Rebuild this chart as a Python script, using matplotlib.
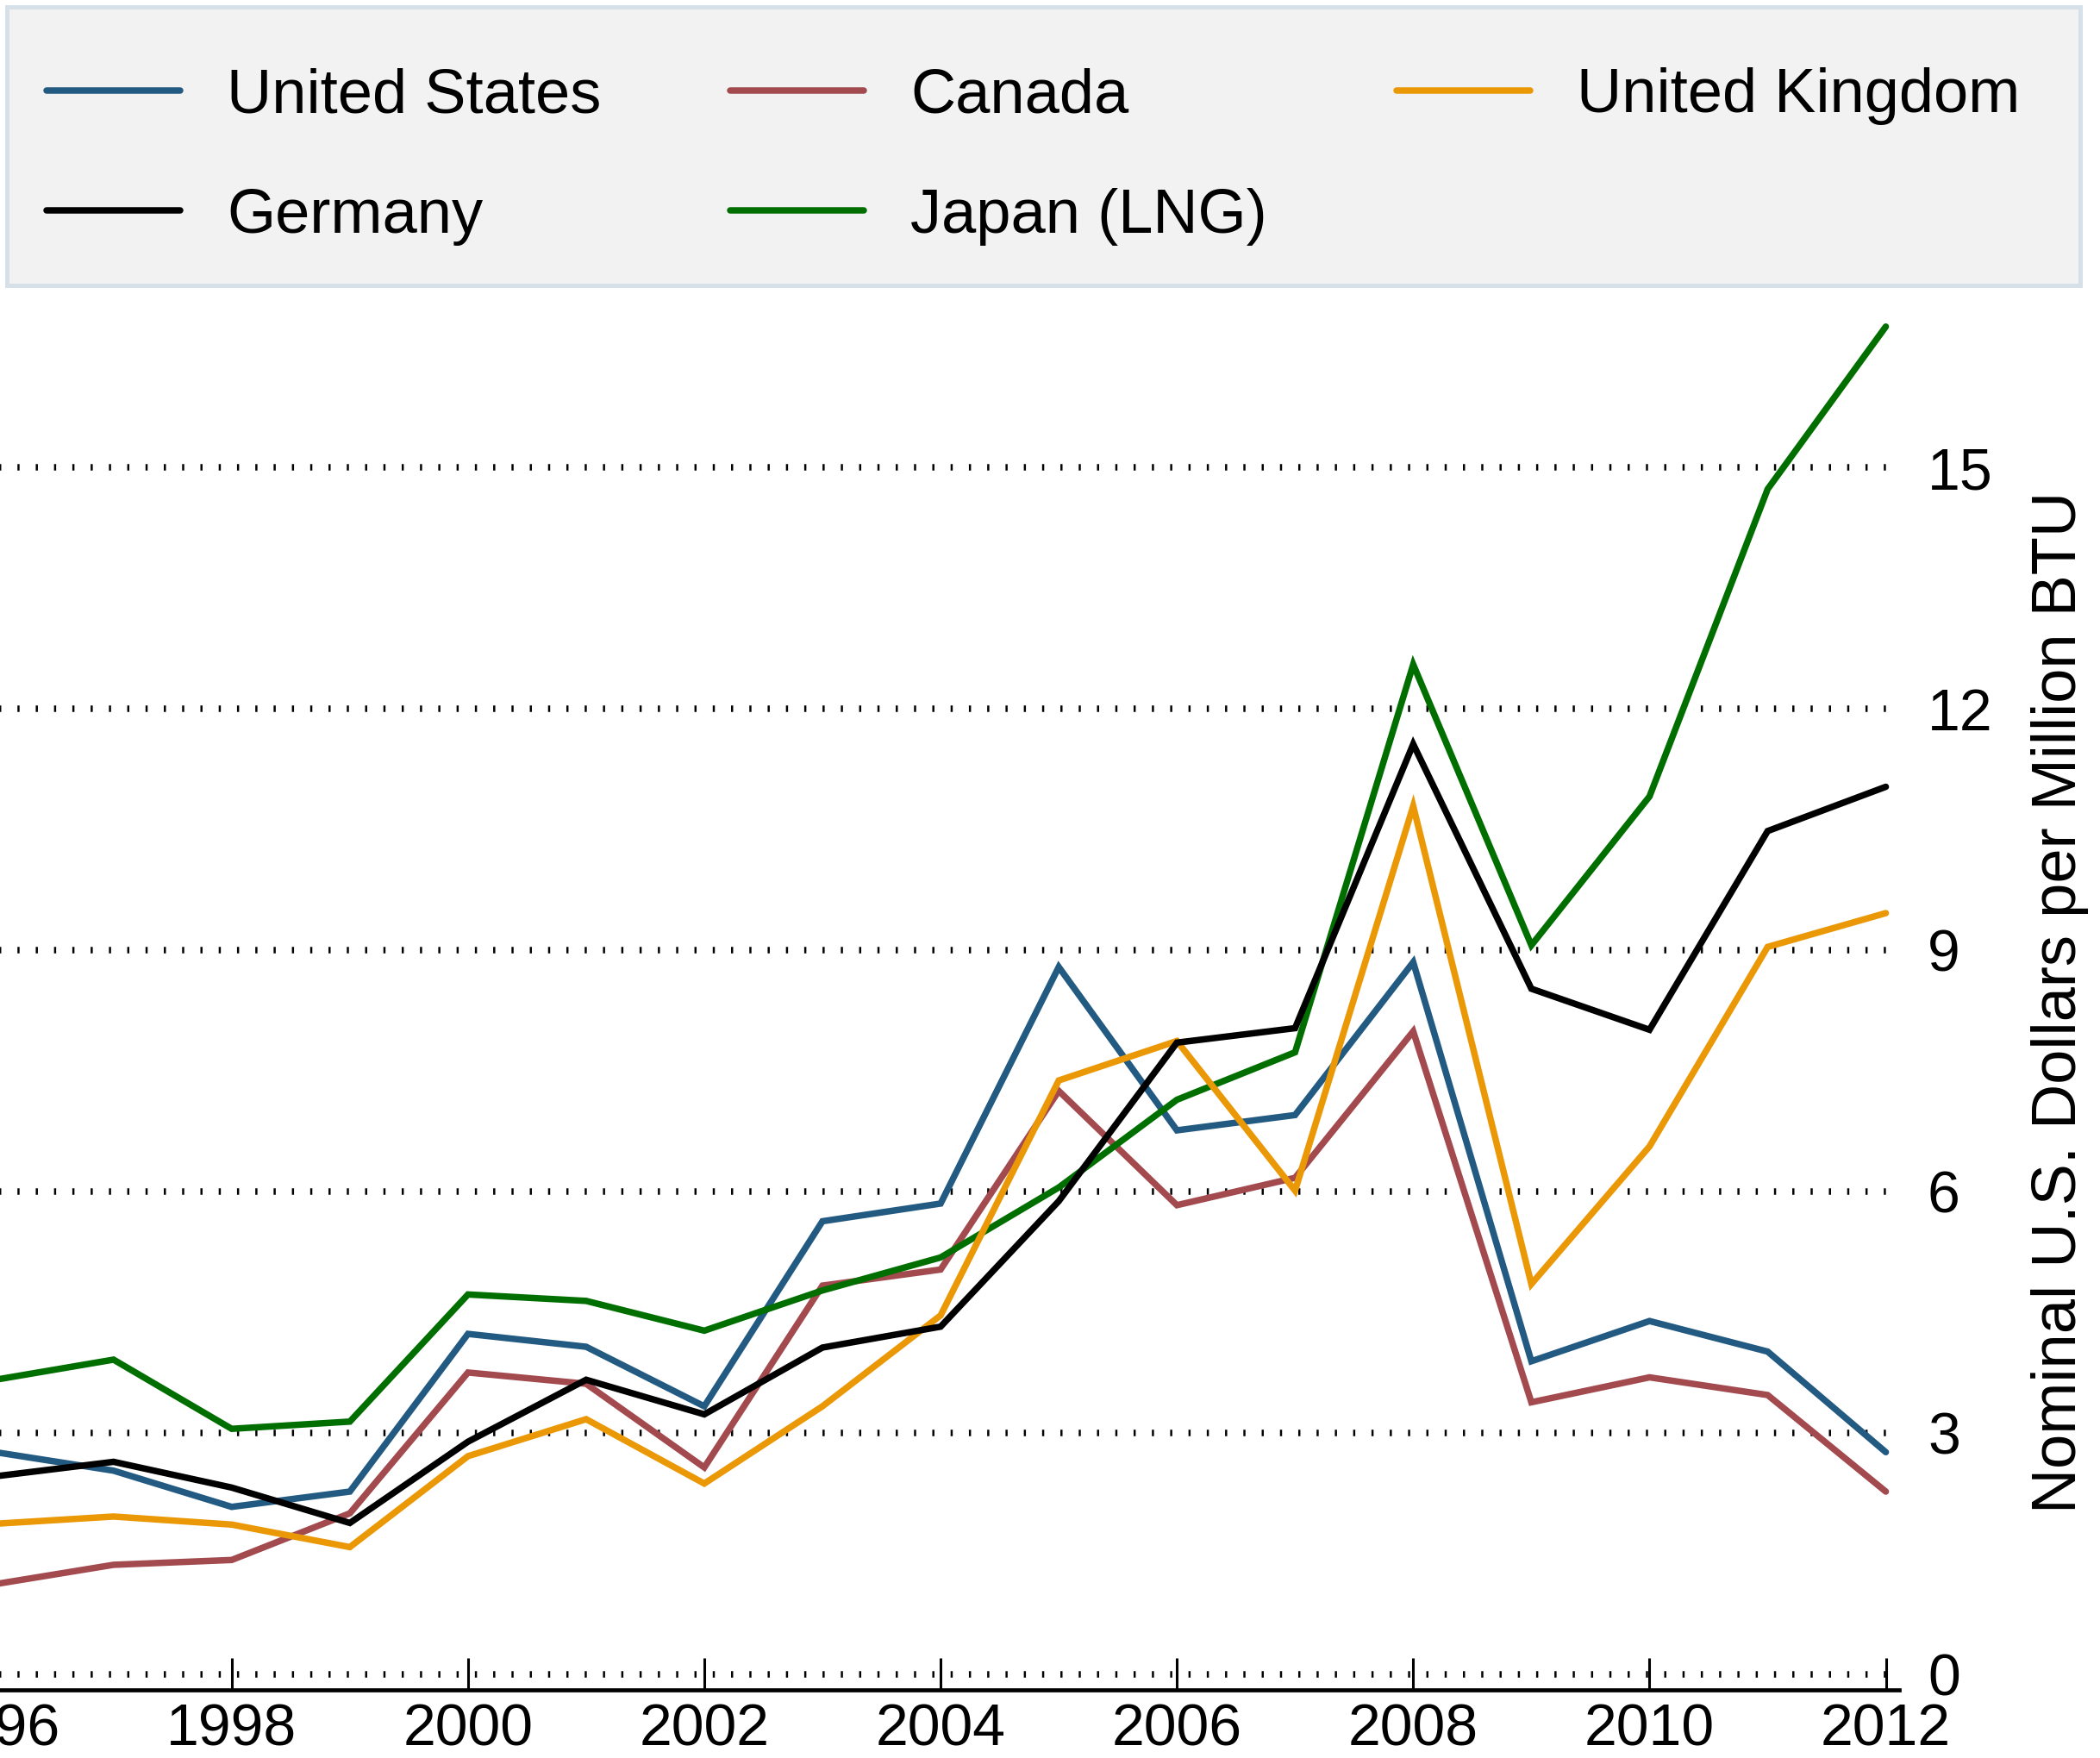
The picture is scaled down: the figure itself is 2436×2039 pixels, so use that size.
import numpy as np
import matplotlib
matplotlib.use('Agg')
import matplotlib.pyplot as plt
from matplotlib.patches import Rectangle

plt.rcParams['font.family'] = ['Liberation Sans', 'DejaVu Sans']

"""Data: nominal natural gas prices, USD per million BTU."""
years = np.arange(1996, 2013)
us = [2.76, 2.53, 2.08, 2.27, 4.23, 4.07, 3.33, 5.63, 5.85, 8.79, 6.76, 6.95, 8.85, 3.89, 4.39, 4.01, 2.76]
canada = [1.12, 1.36, 1.42, 2.00, 3.75, 3.61, 2.57, 4.83, 5.03, 7.25, 5.83, 6.17, 7.99, 3.38, 3.69, 3.47, 2.27]
uk = [1.87, 1.96, 1.86, 1.58, 2.71, 3.17, 2.37, 3.33, 4.46, 7.38, 7.87, 6.01, 10.79, 4.85, 6.56, 9.04, 9.46]
germany = [2.46, 2.64, 2.32, 1.88, 2.89, 3.66, 3.23, 4.06, 4.32, 5.88, 7.85, 8.03, 11.56, 8.52, 8.01, 10.48, 11.03]
japan = [3.66, 3.91, 3.05, 3.14, 4.72, 4.64, 4.27, 4.77, 5.18, 6.05, 7.14, 7.73, 12.55, 9.06, 10.91, 14.73, 16.75]

x_ticks = np.arange(1996, 2013, 2)
y_ticks = [0, 3, 6, 9, 12, 15]

c_us = '#235a82'
c_ca = '#a34a4f'
c_uk = '#ea9806'
c_de = '#000000'
c_jp = '#006f00'

"""Plot."""
W, H = 2436, 2039
fig = plt.figure(figsize=(W / 200, H / 200), dpi=200)
ax = fig.add_axes([-0.0022, 0.0385, 0.9064, 0.7826])

lw = 2.7
kw = dict(lw=lw, solid_capstyle='round', solid_joinstyle='miter')
l_us, = ax.plot(years, us, color=c_us, label='United States', **kw)
l_ca, = ax.plot(years, canada, color=c_ca, label='Canada', **kw)
l_jp, = ax.plot(years, japan, color=c_jp, label='Japan (LNG)', **kw)
l_uk, = ax.plot(years, uk, color=c_uk, label='United Kingdom', **kw)
l_de, = ax.plot(years, germany, color=c_de, label='Germany', **kw)

ax.set_xlim(1996, 2012.11)
ax.set_ylim(-0.2, 16.9)

# dotted grid (short vertical dashes)
ax.yaxis.grid(True, color='black', linewidth=2.7, linestyle=(0, (0.33, 2.5)))
ax.set_axisbelow(True)

ax.set_xticks(x_ticks)
ax.set_yticks(y_ticks)
ax.tick_params(axis='x', direction='in', length=13.3, width=1.1, pad=5,
               labelsize=24.5, colors='black')
ax.tick_params(axis='y', length=0, pad=12, labelsize=24.5,
               left=False, right=False, labelleft=False, labelright=True)

for s in ['top', 'left', 'right']:
    ax.spines[s].set_visible(False)
ax.spines['bottom'].set_linewidth(1.7)

ax.yaxis.set_label_position('right')
ax.set_ylabel('Nominal U.S. Dollars per Million BTU', fontsize=26)
ax.yaxis.set_label_coords(1.0846, 0.5)
ax.yaxis.label.set_verticalalignment('center')
ax.yaxis.label.set_horizontalalignment('center')

# legend frame drawn separately so the rows can sit where they do in the original
box = Rectangle((7.8 / W, 1 - 331 / H), (2412.7 - 7.8) / W, (331 - 7.8) / H,
                transform=fig.transFigure, facecolor='#f2f2f2',
                edgecolor='#d6e0e8', linewidth=1.8, zorder=0)
fig.patches.append(box)

handles = [l_us, l_de, l_ca, l_jp, l_uk]
leg = fig.legend(handles=handles, labels=[h.get_label() for h in handles],
                 loc='upper left', bbox_to_anchor=(0.00128, 0.0, 0.9815, 0.9863),
                 mode='expand', ncol=3, fontsize=26, frameon=False,
                 handlelength=2.15, handletextpad=0.75, borderpad=0.7,
                 labelspacing=1.0, borderaxespad=0.0, columnspacing=2.0)

fig.savefig('out.png', dpi=200)
